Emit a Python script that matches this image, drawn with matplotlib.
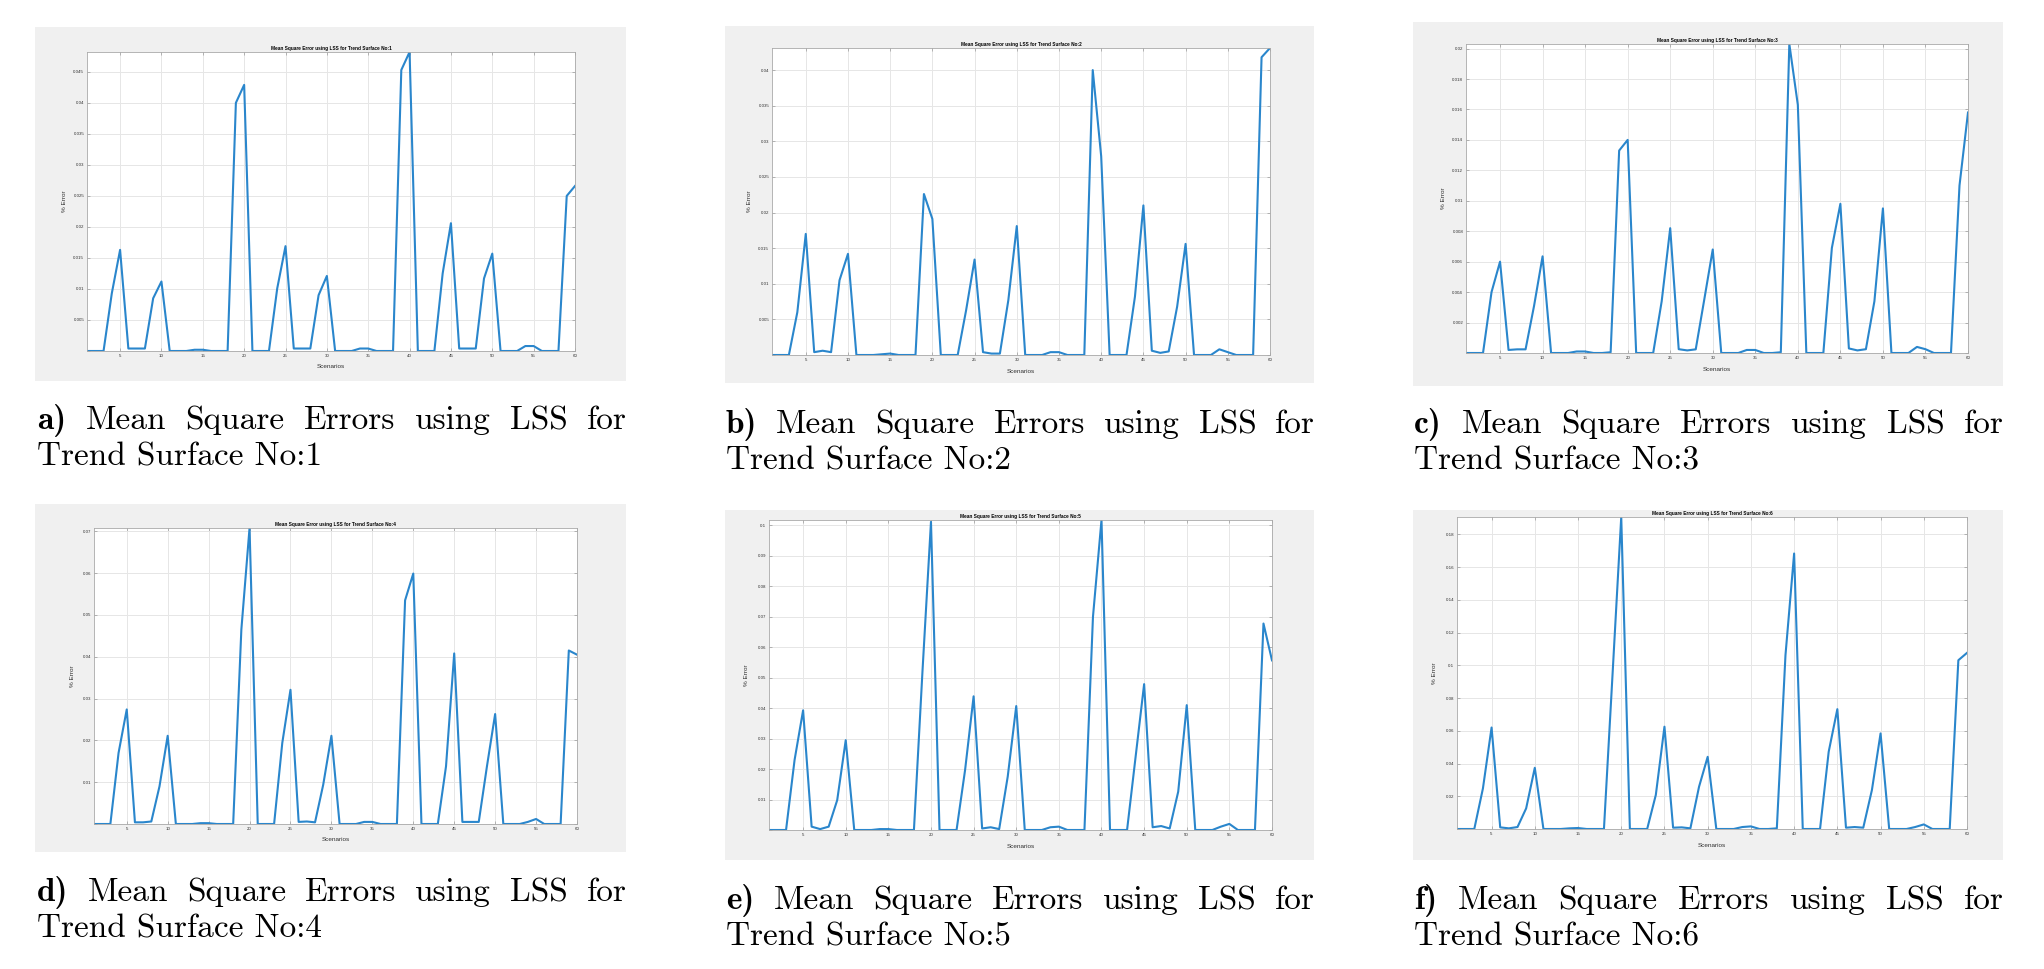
import numpy as np
import matplotlib
matplotlib.use("Agg")
import matplotlib.pyplot as plt
from matplotlib.patches import Rectangle
from matplotlib.ticker import MultipleLocator, FuncFormatter

# ---- data ----
scenarios = np.arange(1, 61)

mse_1 = [0, 0, 0, 0.0093, 0.0163, 0.0004, 0.0004, 0.0004, 0.0085, 0.0112,
         0, 0, 0, 0.0002, 0.0002, 0, 0, 0, 0.0400, 0.0429,
         0, 0, 0, 0.0101, 0.0169, 0.0004, 0.0004, 0.0004, 0.0090, 0.0121,
         0, 0, 0, 0.0004, 0.0004, 0, 0, 0, 0.0453, 0.0482,
         0, 0, 0, 0.0125, 0.0206, 0.0004, 0.0004, 0.0004, 0.0117, 0.0157,
         0, 0, 0, 0.0008, 0.0008, 0, 0, 0, 0.0250, 0.0266]

mse_2 = [0, 0, 0, 0.0060, 0.0170, 0.0004, 0.0006, 0.0004, 0.0105, 0.0142,
         0, 0, 0, 0.0001, 0.0002, 0, 0, 0, 0.0226, 0.0191,
         0, 0, 0, 0.0063, 0.0134, 0.0004, 0.0002, 0.0002, 0.0077, 0.0181,
         0, 0, 0, 0.0004, 0.0004, 0, 0, 0, 0.0400, 0.0279,
         0, 0, 0, 0.0082, 0.0210, 0.0006, 0.0003, 0.0005, 0.0068, 0.0156,
         0, 0, 0, 0.0008, 0.0004, 0, 0, 0, 0.0418, 0.0431]

mse_3 = [0, 0, 0, 0.0040, 0.0060, 0.0002, 0.00024, 0.00024, 0.0031, 0.00635,
         0, 0, 0, 0.0001, 0.0001, 0, 0, 0.00005, 0.0133, 0.0140,
         0, 0, 0, 0.0034, 0.0082, 0.00025, 0.00017, 0.00024, 0.0035, 0.0068,
         0, 0, 0, 0.0002, 0.0002, 0, 0, 0.00005, 0.0203, 0.0163,
         0, 0, 0, 0.0069, 0.0098, 0.0003, 0.00017, 0.00025, 0.0034, 0.0095,
         0, 0, 0, 0.0004, 0.00025, 0, 0, 0, 0.0110, 0.0158]

mse_4 = [0, 0, 0, 0.0170, 0.0274, 0.0004, 0.0004, 0.0006, 0.0090, 0.0211,
         0, 0, 0, 0.0002, 0.0002, 0, 0, 0, 0.0465, 0.0708,
         0, 0, 0, 0.0194, 0.0321, 0.0005, 0.0006, 0.0004, 0.0094, 0.0211,
         0, 0, 0, 0.0005, 0.0005, 0, 0, 0, 0.0535, 0.0599,
         0, 0, 0, 0.0138, 0.0408, 0.0005, 0.0005, 0.0005, 0.0138, 0.0263,
         0, 0, 0, 0.0005, 0.0012, 0, 0, 0, 0.0415, 0.0405]

mse_5 = [0, 0, 0, 0.0230, 0.0393, 0.0011, 0.0003, 0.0011, 0.0098, 0.0295,
         0, 0, 0, 0.0003, 0.0003, 0, 0, 0, 0.0520, 0.1012,
         0, 0, 0, 0.0197, 0.0439, 0.0005, 0.0009, 0.0003, 0.0175, 0.0407,
         0, 0, 0, 0.0009, 0.0011, 0, 0, 0, 0.0700, 0.1018,
         0, 0, 0, 0.0240, 0.0479, 0.0009, 0.0013, 0.0005, 0.0126, 0.0410,
         0, 0, 0, 0.0011, 0.0020, 0, 0, 0, 0.0678, 0.0557]

mse_6 = [0, 0, 0, 0.0248, 0.0620, 0.0010, 0.0004, 0.0012, 0.0126, 0.0374,
         0, 0, 0, 0.0004, 0.0006, 0, 0, 0, 0.0950, 0.1906,
         0, 0, 0, 0.0208, 0.0625, 0.0008, 0.0010, 0.0004, 0.0258, 0.0441,
         0, 0, 0, 0.0012, 0.0016, 0, 0, 0.0004, 0.1062, 0.1683,
         0, 0, 0, 0.0472, 0.0732, 0.0008, 0.0012, 0.0008, 0.0238, 0.0584,
         0, 0, 0, 0.0012, 0.0028, 0, 0, 0, 0.1031, 0.1076]

series = [mse_1, mse_2, mse_3, mse_4, mse_5, mse_6]
panel_letters = ["a", "b", "c", "d", "e", "f"]
surface_numbers = [1, 2, 3, 4, 5, 6]
y_steps = [0.005, 0.005, 0.002, 0.01, 0.01, 0.02]
caption_words = ["Mean", "Square", "Errors", "using", "LSS", "for"]

# ---- layout in pixels of the 2044x969 canvas ----
W, H = 2044, 969
# gray screenshot box: left, top, right, bottom
boxes = [(35, 27, 626, 381), (725, 26, 1314, 383), (1413, 22, 2003, 386),
         (35, 504, 626, 852), (725, 510, 1314, 860), (1413, 510, 2003, 860)]
# axes area inside each screenshot
axes_px = [(87, 52, 575, 351), (772, 48, 1270, 355), (1466, 44, 1968, 353),
           (94, 528, 577, 824), (769, 520, 1272, 830), (1457, 517, 1967, 829)]
# caption first-line baseline: left x, right x (justified), y
captions = [(37, 627, 429), (726, 1315, 433), (1414, 2004, 433),
            (37, 627, 901), (726, 1315, 909), (1414, 2004, 909)]
cap_size = 24
line_gap = 37

matlab_blue = "#2a86cc"

fig = plt.figure(figsize=(W / 100, H / 100), dpi=100)
fig.patch.set_facecolor("white")
renderer = fig.canvas.get_renderer()


def px_rect(l, t, r, b):
    return [l / W, 1 - b / H, (r - l) / W, (b - t) / H]


def fmt_tick(v, pos):
    return "%g" % round(v, 6)


def text_width(t):
    return t.get_window_extent(renderer=renderer).width


for i in range(6):
    l, t, r, b = boxes[i]
    fig.patches.append(Rectangle((l / W, 1 - b / H), (r - l) / W, (b - t) / H,
                                 transform=fig.transFigure, facecolor="#f0f0f0",
                                 edgecolor="none", zorder=-5))

    ax = fig.add_axes(px_rect(*axes_px[i]))
    ax.set_zorder(2)
    ax.set_facecolor("white")
    ax.plot(scenarios, series[i], color=matlab_blue, lw=1.5)
    ax.set_xlim(1, 60)
    ax.set_ylim(0, max(series[i]))
    ax.xaxis.set_major_locator(MultipleLocator(5))
    ax.yaxis.set_major_locator(MultipleLocator(y_steps[i]))
    ax.xaxis.set_major_formatter(FuncFormatter(lambda v, p: "" if v < 5 else "%d" % v))
    ax.yaxis.set_major_formatter(FuncFormatter(lambda v, p: "" if v <= 0 else fmt_tick(v, p)))
    ax.grid(True, color="#e6e6e6", lw=0.7)
    ax.set_axisbelow(True)
    ax.tick_params(direction="in", length=2, width=0.5, colors="#9a9a9a",
                   labelcolor="#303030", labelsize=3.2, pad=2,
                   top=True, right=True)
    for sp in ax.spines.values():
        sp.set_color("#a8a8a8")
        sp.set_linewidth(0.6)
    ax.set_title("Mean Square Error using LSS for Trend Surface No:%d" % surface_numbers[i],
                 fontsize=3.4, fontweight="bold", family="Liberation Sans", pad=1.5)
    ax.set_ylabel("% Error", fontsize=4.6, family="Liberation Sans", color="#303030")
    ax.set_xlabel("Scenarios", fontsize=4.6, family="Liberation Sans", color="#303030")
    ax.yaxis.set_label_coords(-0.04, 0.5)
    ax.xaxis.set_label_coords(0.5, -0.045)
    for lab in ax.get_xticklabels() + ax.get_yticklabels():
        lab.set_family("Liberation Sans")

    # caption, first line justified to the width of the screenshot
    cx0, cx1, cy = captions[i]
    parts = [fig.text(0, 0, "%s)" % panel_letters[i], fontsize=cap_size,
                      family="cmb10", va="baseline", ha="left")]
    for w in caption_words:
        parts.append(fig.text(0, 0, w, fontsize=cap_size, family="cmr10",
                              va="baseline", ha="left"))
    widths = [text_width(p) for p in parts]
    gap = (cx1 - cx0 - sum(widths)) / (len(parts) - 1)
    x = cx0
    for p, w in zip(parts, widths):
        p.set_position((x / W, 1 - cy / H))
        x += w + gap
    fig.text(cx0 / W, 1 - (cy + line_gap) / H,
             "Trend Surface No:%d" % surface_numbers[i],
             fontsize=cap_size, family="cmr10", va="baseline", ha="left")

fig.savefig("out.png", dpi=100)
